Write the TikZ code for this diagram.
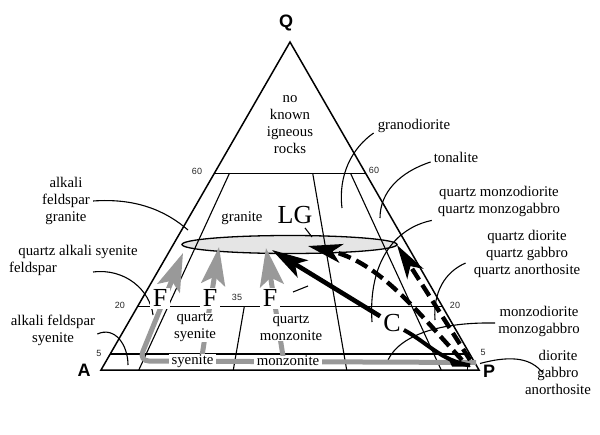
\documentclass[tikz,border=0pt]{standalone}
\usepackage{fontspec}
\setmainfont{Liberation Serif}
\newfontfamily\hsans{Liberation Sans}
\usetikzlibrary{arrows.meta,shapes.geometric}
\begin{document}
\begin{tikzpicture}[x=1pt,y=-1pt,
  lab/.style={font=\fontsize{14.8}{17}\selectfont, inner sep=0pt, align=center},
  wl/.style={lab, fill=white, inner xsep=2.5pt, inner ysep=0.3pt},
  bigl/.style={font=\fontsize{26}{26}\selectfont, inner sep=2pt},
  bigw/.style={bigl, fill=white, inner xsep=3pt},
  corner/.style={font=\hsans\bfseries\fontsize{18}{18}\selectfont, inner sep=0pt},
  num/.style={font=\hsans\fontsize{9}{9}\selectfont, inner sep=0pt, text=black!85},
  edge/.style={line width=1.5pt, line join=miter},
  fieldline/.style={line width=1.1pt},
  ptr/.style={line width=1.1pt},
  grayarr/.style={line width=5pt, draw=black!40, -{Stealth[length=38pt,width=24pt,inset=8pt]}},
  blkarr/.style={line width=4.6pt, -{Stealth[length=36pt,width=20pt,inset=9pt]}},
  dasharr/.style={line width=4.4pt, dash pattern=on 13pt off 6pt, -{Stealth[length=34pt,width=19pt,inset=9pt]}},
]
\useasboundingbox (0,0) rectangle (600,434);

% vertices
\coordinate (Av) at (101,370);
\coordinate (Pv) at (479,370);
\coordinate (Qv) at (290,42);

% LG ellipse (drawn first, field lines cross it)
\node[draw, ellipse, line width=1.3pt, fill=black!10, minimum width=215pt, minimum height=18pt, inner sep=0pt] (ell) at (289.5,244.5) {};

% triangle
\draw[edge] (Av) -- (Pv) -- (Qv) -- cycle;

% horizontal field lines
\draw[fieldline] (214.4,173.2) -- (365.6,173.2);
\draw[fieldline] (137.6,306.5) -- (442.4,306.5);
\draw[fieldline] (110.2,354) -- (469.8,354);
% radial field lines
\draw[fieldline] (229.5,173.2) -- (138.8,370);
\draw[fieldline] (244.3,306.5) -- (233.3,370);
\draw[fieldline] (312.7,173.2) -- (346.7,370);
\draw[fieldline] (350.5,173.2) -- (441.2,370);
\draw[fieldline] (467.5,361) -- (467.5,370);

% corner labels
\node[corner] (Q) at (286,23) {Q};
\node[corner] (A) at (84,370.5) {A};
\node[corner] (P) at (489,371) {P};

% numbers
\node[num] (n60l) at (197,171) {60};
\node[num] (n60r) at (374,170) {60};
\node[num] (n20l) at (120,305) {20};
\node[num] (n20r) at (455,305) {20};
\node[num] (n5l) at (99,353) {5};
\node[num] (n5r) at (483,352) {5};
\node[num] (n35) at (237,297) {35};

% field labels
\node[lab] (nk) at (290,124.5) {no\\known\\igneous\\rocks};
\node[lab] (gran) at (242,218) {granite};
\node[lab] (granod) at (414,126) {granodiorite};
\node[lab] (ton) at (456,157) {tonalite};
\node[lab] (qmd) at (499,201) {quartz monzodiorite\\quartz monzogabbro};
\node[lab] (qd) at (527,254) {quartz diorite\\quartz gabbro\\quartz anorthosite};
\node[lab] (md) at (539,321) {monzodiorite\\monzogabbro};
\node[lab] (dio) at (558,372) {diorite\\gabbro\\anorthosite};
\node[lab] (afg) at (66,201) {alkali\\feldspar\\granite};
\node[lab] (qas) at (78,252) {quartz alkali syenite};
\node[lab] (qas2) at (33,269) {feldspar};
\node[lab] (afs) at (53,330.5) {alkali feldspar\\syenite};

% pointer ends
\coordinate (eafg) at (188,230);
\coordinate (eqas) at (153,315);
\coordinate (eafs) at (128,365);
\coordinate (egd) at (342,208);
\coordinate (eton) at (380,218);
\coordinate (eqmd) at (372,322);
\coordinate (eqd) at (435,320);
\coordinate (emd) at (388,360);
\coordinate (edio) at (542,372);
\coordinate (sdio) at (480,363.5);

\draw[ptr] ([xshift=3pt]afg.east) .. controls (135,198) and (165,210) .. (eafg);
\draw[ptr] ([xshift=36pt,yshift=-3pt]qas2.east) .. controls (125,268) and (150,290) .. (eqas);
\draw[ptr] ([xshift=2pt,yshift=-3.5pt]afs.east) .. controls (115,326) and (128,345) .. (eafs);
\draw[ptr] ([shift={(-4pt,-7pt)}]granod.west) .. controls (352,148) and (338,175) .. (egd);
\draw[ptr] ([shift={(-3pt,-5pt)}]ton.west) .. controls (400,172) and (380,192) .. (eton);
\draw[ptr] ([shift={(-6pt,-4pt)}]qmd.south west) .. controls (395,228) and (368,262) .. (eqmd);
\draw[ptr] ([shift={(-8pt,-9pt)}]qd.west) .. controls (445,272) and (433,292) .. (eqd);
\draw[ptr] ([shift={(-3pt,-2pt)}]md.west) .. controls (440,322) and (400,335) .. (emd);
\draw[ptr] (sdio) .. controls (515,354) and (532,360) .. (edio);

% gray paths (F)
\coordinate (gP) at (476,362.5);
\coordinate (gL) at (139,361);
\coordinate (t1) at (183,253);
\coordinate (b2) at (201,362.5);
\coordinate (t2) at (219,247);
\coordinate (b3) at (284,362.5);
\coordinate (t3) at (266,248);
\draw[grayarr, rounded corners=10pt] (gP) -- (gL) -- (t1);
\draw[grayarr] (b2) -- (t2);
\draw[grayarr] (b3) -- (t3);

% white-backed labels over the gray paths
\node[wl] (sy) at (192.5,361) {syenite};
\node[wl] (mz) at (288,361) {monzonite};
\node[wl] (qsy) at (195,327.5) {quartz\\syenite};
\node[wl] (qmz) at (291,327.5) {quartz\\monzonite};
\node[bigw] (F1) at (160,298.4) {F};
\node[bigw] (F2) at (210,298.4) {F};
\node[bigw] (F3) at (270,298.4) {F};

% LG and C
\node[bigl] (LG) at (295,215) {LG};
\coordinate (lgp) at (312,237);
\draw[ptr] ([shift={(10pt,-2pt)}]LG.south) -- (lgp);
\coordinate (tk1) at (293,292);
\coordinate (tk2) at (308,286);
\draw[ptr] (tk1) -- (tk2);

\node[bigl, inner sep=3pt] (C) at (392,323.5) {C};
\coordinate (tC) at (272,250);
\coordinate (tD1) at (308,246);
\coordinate (tD2) at (397,245);
\coordinate (sD1) at (462,360);
\coordinate (sD2) at (470,360);
\coordinate (eCP) at (470,365.5);

\draw[blkarr] (C) -- (tC);
\draw[line width=4pt] (C) .. controls (428,343) and (440,360) .. (eCP);
\fill (449,360) -- (471,366.5) -- (452,366.5) -- cycle;
\draw[dasharr] (sD1) .. controls (420,315) and (380,262) .. (tD1);
\draw[dasharr] (sD2) -- (tD2);
\end{tikzpicture}
\end{document}
